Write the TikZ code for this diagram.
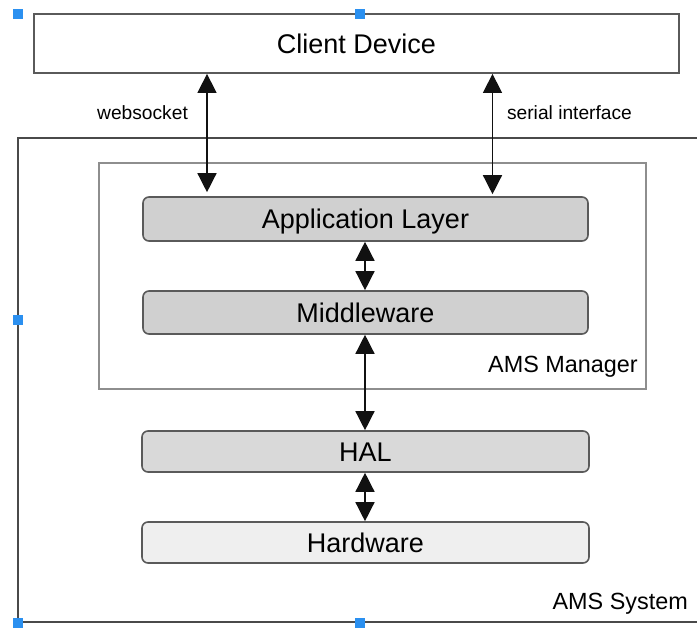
\documentclass[tikz,border=0pt]{standalone}
\usepackage{fontspec}
\setmainfont{Liberation Sans}
\usetikzlibrary{arrows.meta}
\definecolor{boxedge}{HTML}{5A5A5A}
\definecolor{mgredge}{HTML}{8E8E8E}
\definecolor{sysedge}{HTML}{4A4A4A}
\definecolor{layerfill}{HTML}{D0D0D0}
\definecolor{halfill}{HTML}{D9D9D9}
\definecolor{hwfill}{HTML}{EFEFEF}
\definecolor{handleblue}{HTML}{2B90F0}
\definecolor{wire}{HTML}{111111}
\begin{document}
\begin{tikzpicture}[x=1pt,y=-1pt,
  bigtext/.style={font=\fontsize{27}{30}\selectfont, text height=19.4pt, text depth=0pt},
  clientbox/.style={draw=boxedge, line width=1.8pt, fill=white, inner sep=0pt,
    minimum width=645pt, minimum height=59pt, bigtext},
  layerbox/.style={draw=boxedge, line width=1.6pt, rounded corners=6pt, inner sep=0pt,
    minimum width=445pt, bigtext},
  groupbox/.style={inner sep=0pt},
  grouplabel/.style={inner sep=0pt, font=\fontsize{23.4}{26}\selectfont},
  wirelabel/.style={inner sep=0pt, font=\fontsize{19.2}{22}\selectfont},
  biarrow/.style={draw=wire, line width=1.4pt,
    {Triangle[width=19pt,length=19pt]}-{Triangle[width=19pt,length=19pt]}},
  handle/.style={fill=handleblue, draw=none, inner sep=0pt, minimum size=10pt}
]
\useasboundingbox (0,0) rectangle (697,628);
\fill[white] (0,0) rectangle (697,628);
\clip (0,0) rectangle (697,628);

% enclosing system and manager frames
\node[groupbox, draw=sysedge, line width=1.5pt, minimum width=684pt, minimum height=484pt]
  (system) at (360,380) {};
\node[groupbox, draw=mgredge, line width=1.2pt, minimum width=547pt, minimum height=226pt]
  (manager) at (372.5,276) {};
\node[grouplabel, anchor=base east] (managerlbl) at (638,372.7) {AMS Manager};
\node[grouplabel, anchor=base east] (systemlbl) at (688,609.3) {AMS System};

% client on top
\node[clientbox] (client) at (356.5,43.5) {Client Device};

% software / hardware stack
\node[layerbox, fill=layerfill, minimum height=44pt] (app) at (365.5,219) {Application Layer};
\node[layerbox, fill=layerfill, minimum height=43pt] (mid) at (365.5,312.5) {Middleware};
\node[layerbox, fill=halfill, minimum width=447pt, minimum height=41pt] (hal) at (365.5,451.5) {HAL};
\node[layerbox, fill=hwfill, minimum width=447pt, minimum height=41pt] (hw) at (365.5,542.5) {Hardware};

% client links
\coordinate (wsx) at (207,0);
\coordinate (serx) at (492.5,0);
\coordinate (stackx) at (365,0);
\draw[biarrow, shorten >=4pt] (wsx |- client.south) -- (wsx |- app.north);
\draw[biarrow, shorten >=2pt] (serx |- client.south) -- (serx |- app.north);
\node[wirelabel, anchor=base] (wslbl) at (142.5,119.3) {websocket};
\node[wirelabel, anchor=base] (serlbl) at (569.5,119.1) {serial interface};

% links inside the stack
\draw[biarrow] (stackx |- app.south) -- (stackx |- mid.north);
\draw[biarrow] (stackx |- mid.south) -- (stackx |- hal.north);
\draw[biarrow] (stackx |- hal.south) -- (stackx |- hw.north);

% selection handles
\node[handle] (h1) at (18,14) {};
\node[handle] (h2) at (360,14) {};
\node[handle] (h3) at (18,320) {};
\node[handle] (h4) at (18,623) {};
\node[handle] (h5) at (360,623) {};
\end{tikzpicture}
\end{document}
